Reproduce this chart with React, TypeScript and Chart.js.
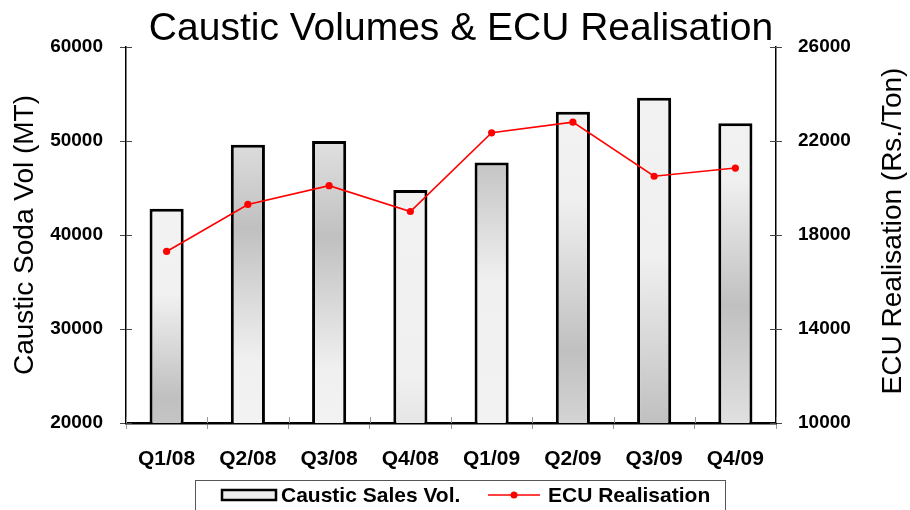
import React, { useEffect, useRef } from 'react';
import { Chart, registerables } from 'chart.js';

Chart.register(...registerables);

const chartTitle = 'Caustic Volumes & ECU Realisation';
const leftAxisTitle = 'Caustic Soda Vol (MT)';
const rightAxisTitle = 'ECU Realisation (Rs./Ton)';
const categories = ['Q1/08', 'Q2/08', 'Q3/08', 'Q4/08', 'Q1/09', 'Q2/09', 'Q3/09', 'Q4/09'];
const salesVolume = [42800, 49600, 50000, 44800, 47700, 53100, 54600, 51900];
const ecuRealisation = [17300, 19300, 20100, 19000, 22350, 22800, 20500, 20850];
const leftTicks = [20000, 30000, 40000, 50000, 60000];
const rightTicks = [10000, 14000, 18000, 22000, 26000];
const seriesLabels = ['Caustic Sales Vol.', 'ECU Realisation'];

// style: per-bar shading (top -> bottom)
const barShades: [number, string][][] = [
  [[0, '#f2f2f2'], [0.4, '#f1f1f1'], [0.88, '#c0c0c0'], [1, '#c4c4c4']],
  [[0, '#dcdcdc'], [0.3, '#c0c0c0'], [0.77, '#f0f0f0'], [1, '#f2f2f2']],
  [[0, '#e0e0e0'], [0.34, '#c0c0c0'], [0.81, '#f0f0f0'], [1, '#f2f2f2']],
  [[0, '#f2f2f2'], [0.8, '#f0f0f0'], [1, '#e6e6e6']],
  [[0, '#c4c4c4'], [0.45, '#f0f0f0'], [1, '#f2f2f2']],
  [[0, '#f2f2f2'], [0.28, '#f0f0f0'], [0.77, '#c0c0c0'], [1, '#d4d4d4']],
  [[0, '#f2f2f2'], [0.49, '#f0f0f0'], [1, '#c0c0c0']],
  [[0, '#f2f2f2'], [0.19, '#f0f0f0'], [0.61, '#c0c0c0'], [1, '#e0e0e0']],
];

const FONT = '"Liberation Sans", Arial, sans-serif';

const decorPlugin = {
  id: 'decor',
  afterDraw(chart: any) {
    const ctx = chart.ctx as CanvasRenderingContext2D;
    const area = chart.chartArea;
    const sx = chart.scales.x;
    const sy = chart.scales.y;
    const sy1 = chart.scales.y1;
    ctx.save();
    // inner halves of crossing ticks
    ctx.lineWidth = 1;
    ctx.strokeStyle = '#444';
    leftTicks.forEach((v) => {
      const y = Math.round(sy.getPixelForValue(v)) + 0.5;
      ctx.beginPath();
      ctx.moveTo(area.left, y);
      ctx.lineTo(area.left + 6, y);
      ctx.stroke();
    });
    rightTicks.forEach((v) => {
      const y = Math.round(sy1.getPixelForValue(v)) + 0.5;
      ctx.beginPath();
      ctx.moveTo(area.right - 6, y);
      ctx.lineTo(area.right, y);
      ctx.stroke();
    });
    ctx.strokeStyle = '#999';
    const half = (sx.getPixelForValue(1) - sx.getPixelForValue(0)) / 2;
    for (let i = 0; i <= categories.length; i++) {
      const x = Math.round(sx.getPixelForValue(i) - half) + 0.5;
      ctx.beginPath();
      ctx.moveTo(x, area.bottom - 6);
      ctx.lineTo(x, area.bottom);
      ctx.stroke();
    }

    // title
    ctx.fillStyle = '#000';
    ctx.font = `39px ${FONT}`;
    ctx.textAlign = 'center';
    ctx.textBaseline = 'alphabetic';
    ctx.fillText(chartTitle, 461, 40);

    // axis titles
    ctx.font = `28px ${FONT}`;
    ctx.save();
    ctx.translate(33, 235);
    ctx.rotate(-Math.PI / 2);
    ctx.fillText(leftAxisTitle, 0, 0);
    ctx.restore();
    ctx.save();
    ctx.translate(901, 231);
    ctx.rotate(-Math.PI / 2);
    ctx.fillText(rightAxisTitle, 0, 0);
    ctx.restore();

    // legend
    ctx.strokeStyle = '#555';
    ctx.lineWidth = 1;
    ctx.strokeRect(195.5, 480.5, 530, 40);
    const ly = 495;
    ctx.fillStyle = '#eeeeee';
    ctx.fillRect(222, 490, 54, 10);
    ctx.strokeStyle = '#000';
    ctx.lineWidth = 2.5;
    ctx.strokeRect(222, 490, 54, 10);
    ctx.font = `bold 21px ${FONT}`;
    ctx.textAlign = 'left';
    ctx.textBaseline = 'middle';
    ctx.fillStyle = '#000';
    ctx.fillText(chart.data.datasets[1].label, 281, ly + 1);
    ctx.strokeStyle = '#ff0000';
    ctx.lineWidth = 1.5;
    ctx.beginPath();
    ctx.moveTo(488, ly);
    ctx.lineTo(540, ly);
    ctx.stroke();
    ctx.fillStyle = '#ff0000';
    ctx.beginPath();
    ctx.arc(514, ly, 3.5, 0, Math.PI * 2);
    ctx.fill();
    ctx.fillStyle = '#000';
    ctx.fillText(chart.data.datasets[0].label, 548, ly + 1);
    ctx.restore();
  },
};

export default function App() {
  const ref = useRef<HTMLCanvasElement | null>(null);
  useEffect(() => {
    const canvas = ref.current;
    if (!canvas) return;
    const chart = new Chart(canvas, {
      type: 'bar',
      data: {
        labels: categories,
        datasets: [
          {
            type: 'line',
            label: seriesLabels[1],
            data: ecuRealisation,
            yAxisID: 'y1',
            borderColor: '#ff0000',
            backgroundColor: '#ff0000',
            borderWidth: 1.6,
            pointRadius: 3.6,
            pointBorderWidth: 0,
            pointBackgroundColor: '#ff0000',
            tension: 0,
            order: 1,
          } as any,
          {
            type: 'bar',
            label: seriesLabels[0],
            data: salesVolume,
            yAxisID: 'y',
            borderColor: '#000',
            borderWidth: 3,
            borderSkipped: false,
            barPercentage: 0.42,
            categoryPercentage: 1,
            order: 2,
            backgroundColor: (c: any) => {
              const ch = c.chart;
              const i = c.dataIndex;
              if (i === undefined || !ch.chartArea || !ch.scales.y) return '#eeeeee';
              const top = ch.scales.y.getPixelForValue(salesVolume[i]);
              const bottom = ch.scales.y.getPixelForValue(leftTicks[0]);
              const g = ch.ctx.createLinearGradient(0, top, 0, bottom);
              barShades[i % barShades.length].forEach(([s, col]) => g.addColorStop(s, col));
              return g;
            },
          } as any,
        ],
      },
      options: {
        animation: false,
        responsive: false,
        layout: { padding: { top: 47, bottom: 27, left: 0, right: 0 } },
        plugins: {
          legend: { display: false },
          title: { display: false },
          tooltip: { enabled: false },
        },
        scales: {
          x: {
            offset: true,
            grid: { offset: true, drawOnChartArea: false, drawTicks: true, tickLength: 6, color: '#999' },
            border: { color: '#000', width: 2.5 },
            ticks: { color: '#000', font: { family: FONT, size: 21, weight: 'bold' }, padding: 18, maxRotation: 0 },
            afterFit: (s: any) => { s.height = 60; },
          },
          y: {
            position: 'left',
            min: leftTicks[0],
            max: leftTicks[leftTicks.length - 1],
            afterBuildTicks: (s: any) => { s.ticks = leftTicks.map((v) => ({ value: v })); },
            grid: { drawOnChartArea: false, drawTicks: true, tickLength: 6, color: '#444' },
            border: { color: '#000', width: 1.5 },
            ticks: { color: '#000', font: { family: FONT, size: 19, weight: 'bold' }, padding: 17, callback: (v: any) => String(v) },
            afterFit: (s: any) => { s.width = 126; },
          },
          y1: {
            position: 'right',
            min: rightTicks[0],
            max: rightTicks[rightTicks.length - 1],
            afterBuildTicks: (s: any) => { s.ticks = rightTicks.map((v) => ({ value: v })); },
            grid: { drawOnChartArea: false, drawTicks: true, tickLength: 6, color: '#444' },
            border: { color: '#000', width: 1.5 },
            ticks: { color: '#000', font: { family: FONT, size: 19, weight: 'bold' }, padding: 16, callback: (v: any) => String(v) },
            afterFit: (s: any) => { s.width = 134; },
          },
        },
      },
      plugins: [decorPlugin],
    });
    return () => chart.destroy();
  }, []);
  return (
    <div style={{ position: 'absolute', left: 0, top: 0, width: 910, height: 510 }}>
      <canvas ref={ref} width={910} height={510} style={{ display: 'block' }} />
    </div>
  );
}
